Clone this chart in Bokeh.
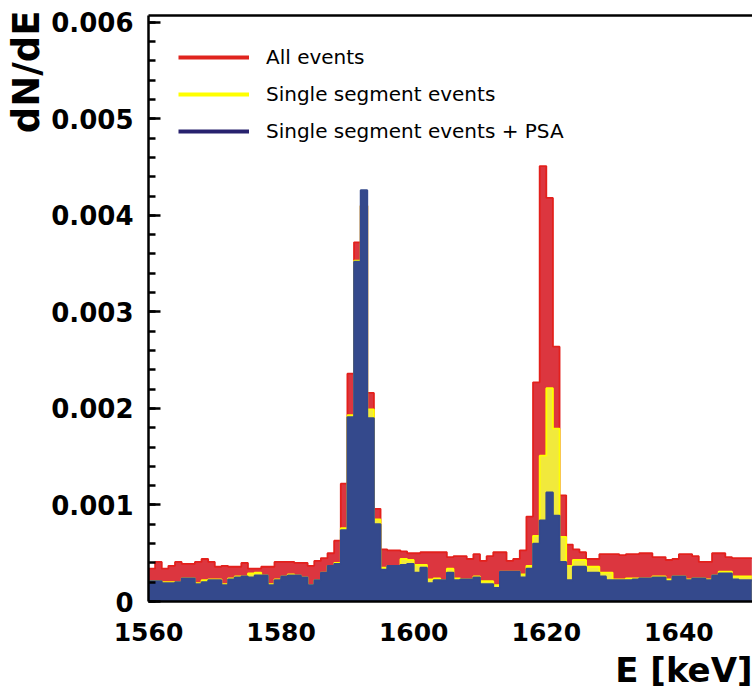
from bokeh.plotting import figure
from bokeh.models import (Range1d, SingleIntervalTicker, LinearAxis, Title, Legend,
                          LegendItem, CustomJSTickFormatter, FixedTicker)
from bokeh.embed import file_html
from bokeh.resources import INLINE

# ---- data (1 keV bins, low edges) ----
bin_low = list(range(1560, 1651))

all_events = [
    0.00034, 0.00041, 0.00034, 0.00037, 0.00041, 0.00039, 0.00039, 0.00041, 0.00044, 0.00041,  # 1560-1569
    0.00036, 0.00037, 0.00036, 0.00036, 0.00040, 0.00034, 0.00034, 0.00036, 0.00036, 0.00041,  # 1570-1579
    0.00041, 0.00041, 0.00040, 0.00040, 0.00037, 0.00042, 0.00045, 0.00050, 0.00063, 0.00122,  # 1580-1589
    0.00236, 0.00372, 0.00410, 0.00216, 0.00096, 0.00054, 0.00053, 0.00053, 0.00052, 0.00050,  # 1590-1599
    0.00050, 0.00051, 0.00051, 0.00051, 0.00051, 0.00046, 0.00047, 0.00047, 0.00044, 0.00049,  # 1600-1609
    0.00042, 0.00047, 0.00051, 0.00051, 0.00042, 0.00044, 0.00053, 0.00088, 0.00227, 0.00451,  # 1610-1619
    0.00418, 0.00264, 0.00110, 0.00059, 0.00054, 0.00051, 0.00044, 0.00044, 0.00049, 0.00049,  # 1620-1629
    0.00049, 0.00048, 0.00049, 0.00049, 0.00050, 0.00050, 0.00046, 0.00046, 0.00043, 0.00044,  # 1630-1639
    0.00049, 0.00049, 0.00047, 0.00041, 0.00041, 0.00050, 0.00050, 0.00046, 0.00045, 0.00045,  # 1640-1649
    0.00045,                                                                                    # 1650
]

single_segment = [
    0.00021, 0.00021, 0.00020, 0.00020, 0.00020, 0.00024, 0.00024, 0.00019, 0.00022, 0.00023,
    0.00023, 0.00018, 0.00024, 0.00026, 0.00026, 0.00029, 0.00030, 0.00027, 0.00018, 0.00023,
    0.00026, 0.00028, 0.00027, 0.00025, 0.00017, 0.00022, 0.00030, 0.00037, 0.00040, 0.00076,
    0.00193, 0.00353, 0.00410, 0.00199, 0.00085, 0.00035, 0.00037, 0.00037, 0.00044, 0.00043,
    0.00038, 0.00038, 0.00023, 0.00024, 0.00022, 0.00034, 0.00024, 0.00023, 0.00023, 0.00026,
    0.00021, 0.00021, 0.00017, 0.00031, 0.00031, 0.00031, 0.00028, 0.00037, 0.00068, 0.00151,
    0.00221, 0.00179, 0.00067, 0.00037, 0.00043, 0.00043, 0.00036, 0.00036, 0.00030, 0.00030,
    0.00023, 0.00023, 0.00024, 0.00024, 0.00024, 0.00024, 0.00026, 0.00026, 0.00023, 0.00026,
    0.00026, 0.00023, 0.00024, 0.00024, 0.00023, 0.00027, 0.00031, 0.00031, 0.00026, 0.00026,
    0.00026,
]

single_segment_psa = [
    0.00021, 0.00021, 0.00019, 0.00019, 0.00020, 0.00024, 0.00024, 0.00018, 0.00020, 0.00022,
    0.00022, 0.00017, 0.00023, 0.00025, 0.00026, 0.00025, 0.00027, 0.00027, 0.00017, 0.00022,
    0.00026, 0.00027, 0.00027, 0.00025, 0.00017, 0.00022, 0.00030, 0.00037, 0.00039, 0.00074,
    0.00191, 0.00352, 0.00426, 0.00190, 0.00080, 0.00033, 0.00037, 0.00037, 0.00038, 0.00039,
    0.00030, 0.00035, 0.00019, 0.00022, 0.00022, 0.00030, 0.00022, 0.00023, 0.00023, 0.00025,
    0.00018, 0.00018, 0.00014, 0.00031, 0.00031, 0.00031, 0.00025, 0.00034, 0.00060, 0.00084,
    0.00113, 0.00089, 0.00041, 0.00022, 0.00036, 0.00036, 0.00030, 0.00030, 0.00026, 0.00022,
    0.00022, 0.00022, 0.00022, 0.00023, 0.00024, 0.00024, 0.00025, 0.00025, 0.00021, 0.00026,
    0.00026, 0.00022, 0.00024, 0.00024, 0.00022, 0.00027, 0.00029, 0.00029, 0.00023, 0.00022,
    0.00022,
]

series_labels = ["All events", "Single segment events", "Single segment events + PSA"]
x_tick_step = 20
y_tick_step = 0.001

# ---- styles ----
FONT = "DejaVu Sans"
fills = ["#dc363f", "#f1e93c", "#34498c"]
outlines = ["#e3201c", "#ffff00", "#34498c"]
legend_colors = ["#e0241e", "#ffff00", "#28226e"]

p = figure(width=752, height=695, output_backend="svg", toolbar_location=None,
           x_range=Range1d(1560, 1651.1), y_range=Range1d(0, 0.00607),
           min_border_left=148, min_border_top=15, min_border_right=0, min_border_bottom=94,
           outline_line_color=None, background_fill_color="white", border_fill_color="white")
p.xgrid.visible = False
p.ygrid.visible = False

edges = bin_low + [bin_low[-1] + 1]
for vals, fc, lc in zip([all_events, single_segment, single_segment_psa], fills, outlines):
    yv = vals + [vals[-1]]
    p.varea_step(x=edges, y1=[0] * len(edges), y2=yv, step_mode="after", fill_color=fc)
    p.step(x=edges, y=yv, mode="after", line_color=lc, line_width=1.8)

# axes styling
xa = p.xaxis[0]
xa.ticker = SingleIntervalTicker(interval=x_tick_step, num_minor_ticks=0)
xa.axis_line_width = 2.5
xa.major_tick_in = 0
xa.major_tick_out = 0
xa.minor_tick_in = 0
xa.minor_tick_out = 0
xa.major_label_text_font = FONT
xa.major_label_text_font_style = "bold"
xa.major_label_text_font_size = "25px"
xa.major_label_text_color = "black"
xa.major_label_standoff = 21

ya = p.yaxis[0]
ya.ticker = SingleIntervalTicker(interval=y_tick_step, num_minor_ticks=5)
ya.formatter = CustomJSTickFormatter(code="return tick < 1e-9 ? '0' : tick.toFixed(3);")
ya.axis_line_width = 2.5
ya.major_tick_in = 12
ya.major_tick_out = 0
ya.minor_tick_in = 7
ya.minor_tick_out = 0
ya.major_tick_line_width = 2.5
ya.minor_tick_line_width = 2.5
ya.major_label_text_font = FONT
ya.major_label_text_font_style = "bold"
ya.major_label_text_font_size = "26px"
ya.major_label_text_color = "black"
ya.major_label_standoff = 15

top_axis = LinearAxis(ticker=FixedTicker(ticks=[]), axis_line_width=2.5,
                      major_tick_in=0, major_tick_out=0, minor_tick_in=0, minor_tick_out=0,
                      major_label_standoff=0, major_label_text_font_size="0px")
p.add_layout(top_axis, "above")

# axis titles
p.add_layout(Title(text="E [keV]", align="right", text_font=FONT, text_font_style="bold",
                   text_font_size="34px", text_color="black", standoff=8), "below")
p.add_layout(Title(text="dN/dE", align="right", text_font=FONT, text_font_style="bold",
                   text_font_size="37px", text_color="black", standoff=2, offset=-5), "left")

# legend
items = []
for lab, col in zip(series_labels, legend_colors):
    r = p.line(x=[bin_low[0]], y=[float("nan")], line_color=col, line_width=4)
    items.append(LegendItem(label=lab, renderers=[r]))
legend = Legend(items=items, location="top_left", margin=30, padding=0,
                glyph_width=71, glyph_height=22, label_height=22, spacing=13,
                label_standoff=17, label_text_font=FONT, label_text_font_size="20px",
                label_text_color="black", border_line_color=None, background_fill_alpha=0)
p.add_layout(legend, "center")

open("out.html", "w").write(file_html(p, INLINE))
